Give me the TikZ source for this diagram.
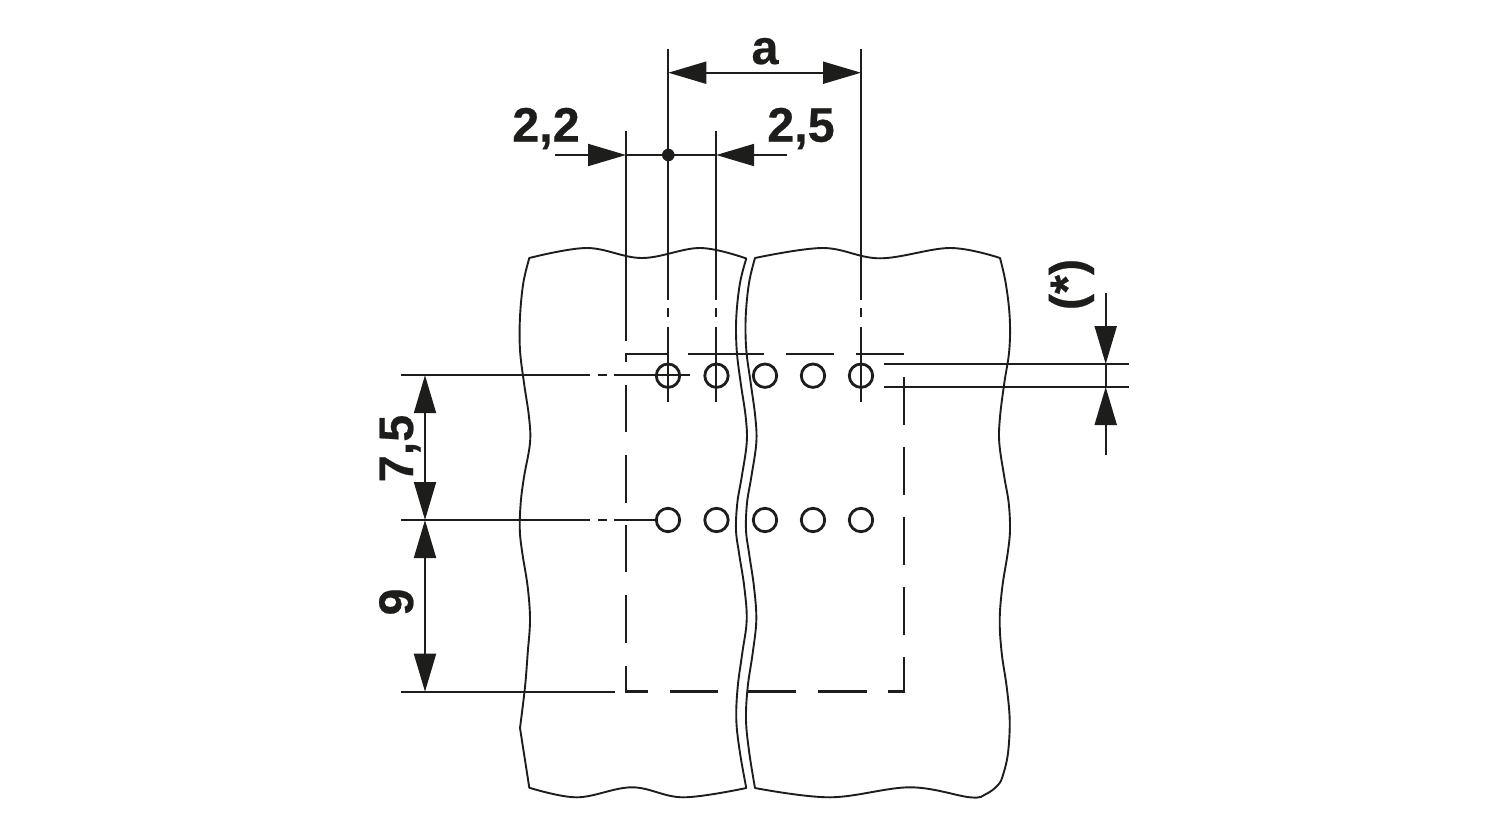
\documentclass[tikz,border=0pt]{standalone}
\usepackage{fontspec}
\setmainfont{Liberation Sans}[BoldFeatures={FakeBold=0.5}]
\usetikzlibrary{arrows.meta}
\definecolor{ink}{HTML}{1D1D1B}
\tikzset{
  thinline/.style={draw=ink,line width=2pt},
  outline/.style={draw=ink,line width=1.9pt,line join=round},
  dashline/.style={draw=ink,line width=2.5pt},
  dimline/.style={draw=ink,line width=2pt,-{Triangle[length=38pt,width=22pt]}},
  dimboth/.style={draw=ink,line width=2pt,{Triangle[length=38pt,width=22pt]}-{Triangle[length=38pt,width=22pt]}},
  hole/.style={circle,draw=ink,line width=2.8pt,minimum size=23.4pt,inner sep=0pt},
  dimtext/.style={text=ink,font=\fontsize{48.5}{48.5}\selectfont\bfseries,inner sep=0pt,anchor=base},
  edge/.style={smooth,tension=0.6},
}
\begin{document}
\begin{tikzpicture}[x=1pt,y=-1pt]
\useasboundingbox (0,0) rectangle (1500,820);
% left panel
\draw[outline]
  plot[edge] coordinates {(529.3,258) (587,248) (642,258) (700,248) (746.3,258.5)}
  -- plot[edge] coordinates {(746.3,258.5) (740,283) (736.3,317) (736.7,350) (740.7,383) (745.7,417) (746.7,443) (741.7,477) (737.3,503) (736,530) (739,553) (744.3,587) (746.7,620) (742.3,653) (737.7,687) (736.3,720) (740,753) (746.3,788)}
  -- plot[edge] coordinates {(746.3,788) (683,797.3) (632,787.3) (577,797.3) (529.3,787.7)}
  -- plot[edge] coordinates {(529.3,787.7) (520,728)}
  -- plot[edge] coordinates {(520,728) (525,687) (527.7,653) (530,620) (527.7,587) (522.3,553) (519.8,530) (520.7,503) (524,477) (530,443) (529,417) (524,383) (520,350) (520,317) (523.3,283) (529.3,258)}
  -- cycle;
% right panel
\draw[outline]
  plot[edge] coordinates {(755,258) (823,248) (880,258.3) (950,248) (1000,258)}
  -- plot[edge] coordinates {(1000,258) (1005.7,283) (1009.7,317) (1009.3,350) (1004.3,383) (1000,417) (999.3,443) (1004.3,477) (1008.7,503) (1010,530) (1007.7,553) (1002.3,587) (999.7,620) (1001.7,653) (1006.7,687) (1009.7,720) (1008,753) (1003,775) (998,785) (986,794) (970,797.3) (910,787.3) (830,797.3) (755,788)}
  -- plot[edge] coordinates {(755,788) (749.3,753) (746,720) (747.7,687) (752.7,653) (756.3,620) (754,587) (749,553) (746,530) (747,503) (751.3,477) (756.3,443) (755.3,417) (750.7,383) (746.3,350) (745.7,317) (749,283) (755,258)}
  -- cycle;
% holes
\foreach \n/\x in {1/668,2/716.5,3/765,4/813,5/861}{
  \node[hole] (u\n) at (\x,375.7) {};
  \node[hole] (l\n) at (\x,520) {};
}
% reference coordinates
\coordinate (xa) at (668.3,155);
\coordinate (xb) at (861,72.7);
\coordinate (xc) at (626,155);
\coordinate (xd) at (716.2,155);
\coordinate (sa) at (555,155);
\coordinate (sb) at (787,155);
\coordinate (ta) at (668.3,72.7);
% vertical extension lines
\draw[thinline] (668.3,48.7) -- (668.3,300);
\draw[thinline] (861,48.7) -- (861,300);
\draw[thinline] (716.2,130.7) -- (716.2,300);
\draw[thinline] (626,130.7) -- (626,340.7);
% centre lines through holes
\foreach \x in {668.3,716.2,861}{
  \draw[thinline] (\x,308) -- (\x,317);
  \draw[thinline] (\x,327) -- (\x,402);
}
% horizontal centre lines
\draw[thinline] (401,375.2) -- (590,375.2);
\draw[thinline] (598,375.2) -- (607,375.2);
\draw[thinline] (614,375.2) -- (690,375.2);
\draw[thinline] (401,520) -- (590,520);
\draw[thinline] (598,520) -- (607,520);
\draw[thinline] (614,520) -- (l1.west);
\draw[thinline] (401,691.7) -- (615,691.7);
% dashed housing
\draw[dashline] (626,361.7) -- (626,354) -- (667,354);
\draw[dashline] (688,354) -- (764,354);
\draw[dashline] (786,354) -- (834,354);
\draw[dashline] (856,354) -- (904,354);
\foreach \a/\b in {385/431.7,455/502.7,525/572,595/643}{
  \draw[dashline] (626,\a) -- (626,\b);
}
\draw[dashline] (626,666) -- (626,691.7) -- (648,691.7);
\draw[dashline] (670,691.7) -- (718,691.7);
\draw[dashline] (748,691.7) -- (796,691.7);
\draw[dashline] (818,691.7) -- (867,691.7);
\draw[dashline] (888,691.7) -- (904,691.7) -- (904,657);
\foreach \a/\b in {377/425,447/495,517/565,587/635}{
  \draw[dashline] (904,\a) -- (904,\b);
}
% right offset
\draw[thinline] (884,364) -- (1129,364);
\draw[thinline] (884,387) -- (1129,387);
\coordinate (ra) at (1105.7,293);
\coordinate (rb) at (1105.7,364);
\coordinate (rc) at (1105.7,387);
\coordinate (rd) at (1105.7,455);
\draw[dimline] (ra) -- (rb);
\draw[dimline] (rd) -- (rc);
\draw[thinline] (rb) -- (rc);
% top dimensions
\draw[dimboth] (ta) -- (xb);
\draw[dimline] (sa) -- (xc);
\draw[dimline] (sb) -- (xd);
\draw[thinline] (xc) -- (xd);
\fill[ink] (xa) circle[radius=6.3pt];
% left dimensions
\coordinate (la) at (425,375.2);
\coordinate (lb) at (425,520);
\coordinate (lc) at (425,691.7);
\draw[dimboth] (la) -- (lb);
\draw[dimboth] (lb) -- (lc);
% labels
\node[dimtext] (ta1) at (765,64) {a};
\node[dimtext] (ta2) at (546,141.7) {2,2};
\node[dimtext] (ta3) at (801,141.7) {2,5};
\node[dimtext,rotate=90] (ta4) at (413,448.5) {7,5};
\node[dimtext,rotate=90] (ta5) at (413,602) {9};
\node[dimtext,rotate=90] (ta6) at (1084,284.5) {(*)};
\end{tikzpicture}
\end{document}
